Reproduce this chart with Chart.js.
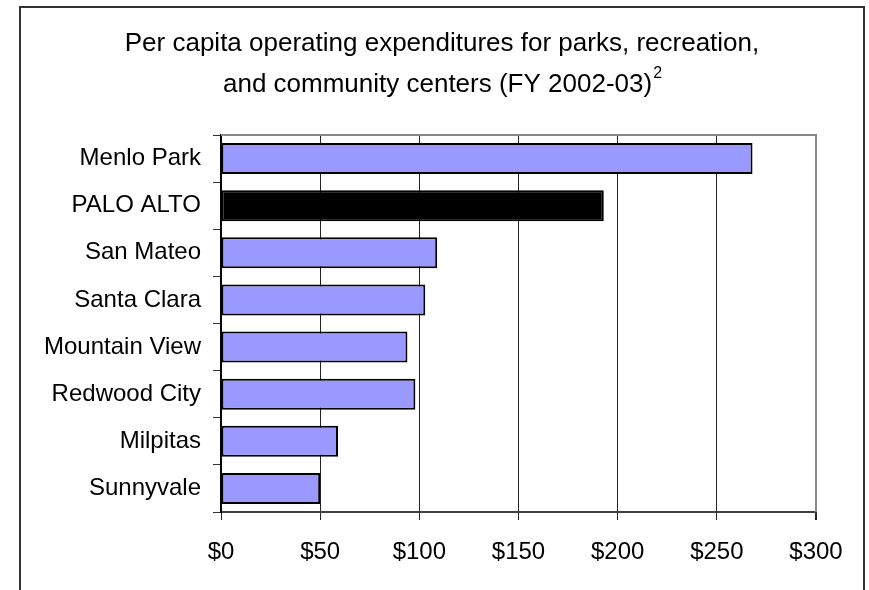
<!DOCTYPE html>
<html lang="en">
<head>
  <meta charset="UTF-8">
  <title>Per capita operating expenditures</title>
  <script src="https://cdn.jsdelivr.net/npm/chart.js"></script>
  <style>
    html, body { margin: 0; padding: 0; background: #fff; }
    #grafico { display: block; }
  </style>
</head>
<body>
  <canvas id="grafico" width="869" height="590"></canvas>

  <script>
    // per capita spending, FY 2002-03
    const ciudades = ["Menlo Park", "PALO ALTO", "San Mateo", "Santa Clara", "Mountain View", "Redwood City", "Milpitas", "Sunnyvale"];
    const gasto = [268, 193, 109, 103, 94, 98, 59, 50];
    const tituloLineas = ["Per capita operating expenditures for parks, recreation,", "and community centers (FY 2002-03)"];
    const tituloNota = "2";
    const ejeMax = 300;
    const ejePaso = 50;

    const fuente = "'Liberation Sans', Arial, sans-serif";

    // marco exterior, titulo y borde superior/derecho del area de trazado
    const decoracion = {
      id: "decoracion",
      beforeDraw(chart) {
        const ctx = chart.ctx;
        ctx.save();
        ctx.strokeStyle = "#333";
        ctx.lineWidth = 2;
        ctx.beginPath();
        ctx.moveTo(20, 600);
        ctx.lineTo(20, 7);
        ctx.lineTo(864, 7);
        ctx.lineTo(864, 600);
        ctx.stroke();
        ctx.restore();
      },
      afterDraw(chart) {
        const ctx = chart.ctx;
        const a = chart.chartArea;
        ctx.save();
        ctx.strokeStyle = "#888";
        ctx.lineWidth = 2;
        ctx.beginPath();
        ctx.moveTo(a.left, a.top);
        ctx.lineTo(a.right, a.top);
        ctx.lineTo(a.right, a.bottom);
        ctx.stroke();

        ctx.fillStyle = "#000";
        ctx.font = "26px " + fuente;
        ctx.textAlign = "center";
        ctx.textBaseline = "middle";
        const cx = 442;
        ctx.fillText(tituloLineas[0], cx, 44);
        const w2 = ctx.measureText(tituloLineas[1]).width;
        ctx.font = "16px " + fuente;
        const ws = ctx.measureText(tituloNota).width;
        const x0 = cx - (w2 + ws) / 2;
        ctx.textAlign = "left";
        ctx.font = "26px " + fuente;
        ctx.fillText(tituloLineas[1], x0, 85);
        ctx.font = "16px " + fuente;
        ctx.fillText(tituloNota, x0 + w2 + 1, 74);
        ctx.restore();
      }
    };

    new Chart(document.getElementById("grafico"), {
      type: "bar",
      data: {
        labels: ciudades,
        datasets: [{
          data: gasto,
          backgroundColor: ciudades.map(c => c === "PALO ALTO" ? "#000000" : "#9999FF"),
          borderColor: "#000000",
          borderWidth: 2,
          borderSkipped: false,
          categoryPercentage: 1,
          barPercentage: 0.66
        }]
      },
      options: {
        indexAxis: "y",
        responsive: false,
        animation: false,
        layout: { padding: { left: 0, top: 135, right: 53, bottom: 0 } },
        plugins: {
          legend: { display: false },
          tooltip: { enabled: false },
          title: { display: false }
        },
        scales: {
          x: {
            min: 0,
            max: ejeMax,
            afterFit: s => { s.height = 78; },
            border: { color: "#404040", width: 2 },
            grid: {
              color: c => c.tick && c.tick.value === ejeMax ? "#888" : "#222",
              lineWidth: c => c.tick && c.tick.value === ejeMax ? 2 : 1,
              tickLength: 8,
              tickColor: "#222"
            },
            ticks: {
              stepSize: ejePaso,
              padding: 18,
              color: "#000",
              font: { family: fuente, size: 24 },
              callback: v => "$" + v
            }
          },
          y: {
            afterFit: s => { s.width = 221; },
            border: { color: "#000", width: 2 },
            grid: {
              drawOnChartArea: false,
              tickLength: 8,
              tickColor: "#333"
            },
            ticks: {
              padding: 12,
              color: "#000",
              font: { family: fuente, size: 24 }
            }
          }
        }
      },
      plugins: [decoracion]
    });
  </script>
</body>
</html>
